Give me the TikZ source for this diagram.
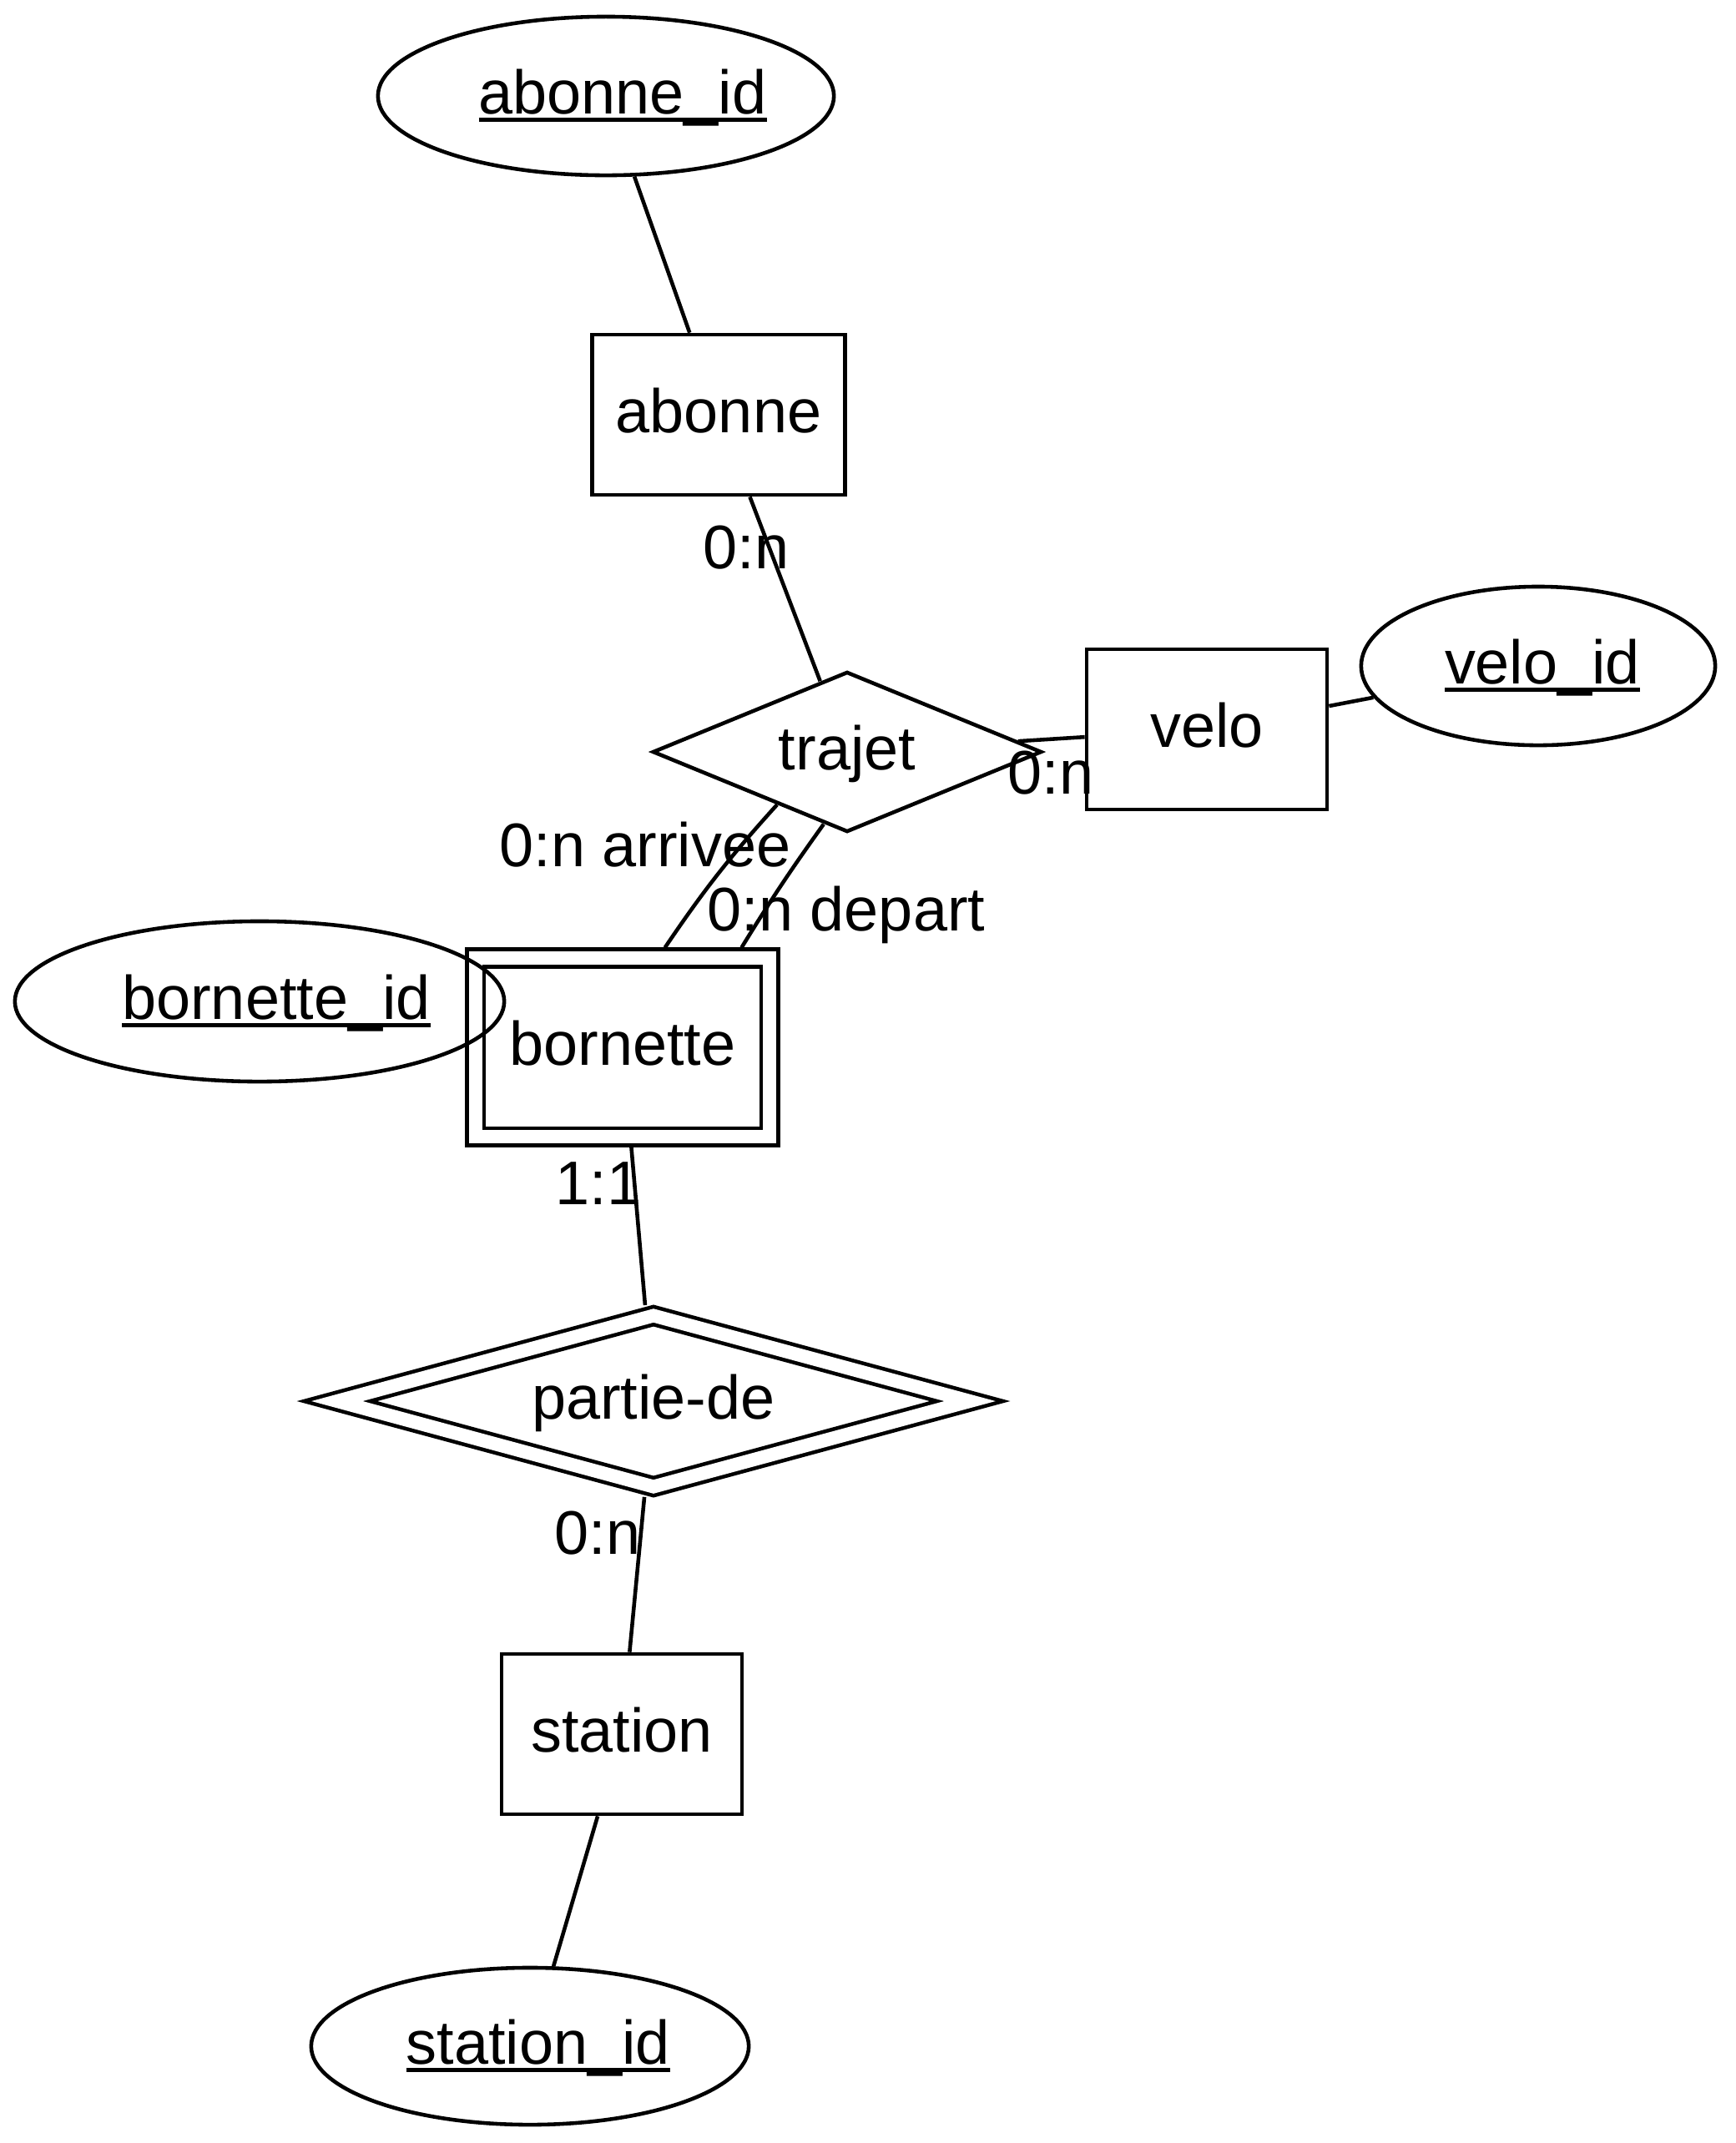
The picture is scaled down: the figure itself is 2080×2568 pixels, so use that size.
\documentclass[tikz,border=0pt]{standalone}
\usepackage{fontspec}
\setmainfont{Liberation Sans}
\usetikzlibrary{shapes.geometric,positioning}

\newcommand{\keyname}[1]{{\setbox0\hbox{#1}\rlap{\rule[-0.13em]{\wd0}{0.06em}}\box0}}

\begin{document}
\begin{tikzpicture}[
        x=0.01cm, y=-0.01cm,
        every node/.style={font=\fontsize{21}{25}\selectfont, inner sep=0pt,
                           text height=12pt, text depth=0pt},
        entity/.style={rectangle, draw, line width=1.3pt,
                       minimum width=2.88cm, minimum height=1.92cm},
        weakent/.style={entity, double, double distance=0.16cm, outer sep=0.125cm,
                        minimum width=3.52cm, minimum height=2.14cm},
        attr/.style={ellipse, draw, line width=1.3pt, minimum height=1.9cm},
        rel/.style={diamond, draw, line width=1.3pt, aspect=2.4,
                    minimum width=4.66cm, minimum height=1.92cm},
        weakrel/.style={rel, double, double distance=0.16cm, outer sep=0.11cm, aspect=3.6,
                        minimum width=7.67cm, minimum height=2.14cm},
        card/.style={fill=none},
        link/.style={line width=1.3pt}
    ]
        \useasboundingbox (0,0) rectangle (2080,2568);

        % entities
        \node[entity, minimum width=3.03cm] (abonne) at (861,497) {abonne};
        \node[entity] (velo) at (1446,874) {velo};
        \node[weakent] (bornette) at (746,1255) {bornette};
        \node[entity] (station) at (745,2078) {station};

        % relations
        \node[rel] (trajet) at (1015,901) {trajet};
        \node[weakrel] (partie) at (783,1679) {partie-de};

        % keys
        \node[attr, minimum width=5.46cm] (abonneid) at (726,115) {\hspace{0.4cm}\keyname{abonne\_id}};
        \node[attr, minimum width=4.24cm] (veloid) at (1843,798) {\hspace{0.1cm}\keyname{velo\_id}};
        \node[attr, minimum width=5.86cm, minimum height=1.92cm] (bornetteid) at (311,1200) {\hspace{0.4cm}\keyname{bornette\_id}};
        \node[attr, minimum width=5.24cm, minimum height=1.88cm] (stationid) at (635,2452) {\hspace{0.2cm}\keyname{station\_id}};

        \draw[link] (abonneid) -- (abonne);
        \draw[link] (velo) -- (veloid);
        \draw[link] (station) -- (stationid);

        % links with cardinalities
        \draw[link] (abonne) -- (trajet);
        \draw[link] (trajet) -- (velo);
        \draw[link] (trajet.-143) to[bend right=4] (bornette.67);
        \draw[link] (trajet.-108) to[bend right=2] (bornette.40);
        \draw[link] (bornette) -- (partie);
        \draw[link] (partie) -- (station);

        \node[card] (c-abonne) at (894,660) {0:n};
        \node[card] (c-velo) at (1259,930) {0:n};
        \node[card] (c-arrivee) at (773,1017) {0:n arrivee};
        \node[card] (c-depart) at (1014,1094) {0:n depart};
        \node[card] (c-bornette) at (717,1422) {1:1};
        \node[card] (c-station) at (716,1841) {0:n};
    \end{tikzpicture}
\end{document}
